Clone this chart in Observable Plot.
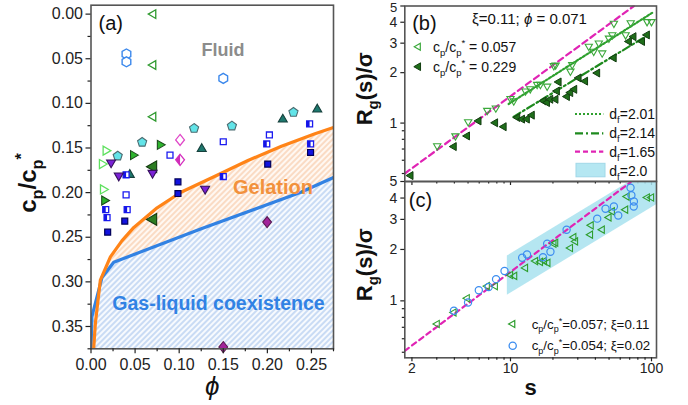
<!DOCTYPE html>
<html><head><meta charset="utf-8">
<script src="https://cdn.jsdelivr.net/npm/d3@7"></script>
<script src="https://cdn.jsdelivr.net/npm/@observablehq/plot@0.6"></script>
<style>
html,body{margin:0;padding:0;background:#fff;}
#wrap{position:relative;width:688px;height:405px;overflow:hidden;font-family:"Liberation Sans",Arial,sans-serif;}
#wrap svg{position:absolute;}
</style></head><body><div id="wrap"></div>
<script>
// ================= DATA =================
// Panel (a) axes
const aXDomain = [0, 0.275];
const aYDomain = [-0.01, 0.375];
const aXTicks = [0, 0.05, 0.10, 0.15, 0.20, 0.25];
const aXMinor = [0.025, 0.075, 0.125, 0.175, 0.225, 0.275];
const aYTicks = [0, 0.05, 0.10, 0.15, 0.20, 0.25, 0.30, 0.35];
const aYMinor = [0.025, 0.075, 0.125, 0.175, 0.225, 0.275, 0.325, 0.375];

// Gelation line (orange) and gas-liquid boundary (blue)
const gelPhi = [0.003, 0.005, 0.0106, 0.022, 0.035, 0.0486, 0.075, 0.102, 0.14, 0.178, 0.216, 0.254, 0.275];
const gelC   = [0.375, 0.346, 0.298, 0.272, 0.254, 0.239, 0.217, 0.1996, 0.182, 0.164, 0.148, 0.134, 0.127];
const coexPhi = [0, 0.001, 0.0125, 0.0258, 0.125, 0.238, 0.275];
const coexC   = [0.375, 0.339, 0.295, 0.278, 0.2405, 0.1996, 0.183];

// Panel (a) state points, [phi, cp/cp*]
const openLeftTriGreen = [[0.0706, 0.000], [0.0706, 0.057], [0.0706, 0.115]];
const openHexBlue = [[0.0402, 0.0447], [0.0402, 0.0534], [0.150, 0.072]];
const tealUpTri = [[0.2566, 0.1067], [0.2175, 0.118], [0.1256, 0.151], [0.044, 0.180]];
const cyanPentagon = [[0.2296, 0.110], [0.1598, 0.1253], [0.1169, 0.128], [0.058, 0.1436], [0.0303, 0.159]];
const openSquareBlue = [[0.2023, 0.1354], [0.150, 0.143], [0.0896, 0.158], [0.0398, 0.2025]];
const halfSquareBlue = [[0.2479, 0.123], [0.1993, 0.1455], [0.249, 0.1455], [0.0398, 0.180], [0.150, 0.182], [0.0167, 0.219], [0.041, 0.219], [0.0182, 0.228]];
const filledSquareBlue = [[0.249, 0.155], [0.2004, 0.168], [0.0986, 0.188], [0.0986, 0.201], [0.0383, 0.232], [0.0189, 0.2443]];
const openDiamondMagenta = [[0.101, 0.141]];
const halfDiamondMagenta = [[0.101, 0.1633]];
const filledDiamondMagenta = [[0.1997, 0.233], [0.150, 0.373]];
const filledRightTriGreen = [[0.0782, 0.1465], [0.0478, 0.158], [0.0151, 0.2088]];
const openRightTriLime = [[0.0167, 0.153], [0.0125, 0.168], [0.0137, 0.1965]];
const downTriPurple = [[0.0228, 0.1663], [0.0315, 0.181], [0.0698, 0.178], [0.1294, 0.1958]];
const bigLeftTriDarkGreen = [[0.0706, 0.171], [0.0706, 0.230]];

// Panels (b), (c) axes
const sDomain = [1.78, 108.5];
const bRDomain = [0.448, 5.0];
const cRDomain = [0.464, 5.0];
const sTicks = [2, 10, 100];
const sMinor = [3, 4, 5, 6, 7, 8, 9, 20, 30, 40, 50, 60, 70, 80, 90];
const rTicks = [1, 2, 3, 4, 5];
const rMinor = [0.5, 0.6, 0.7, 0.8, 0.9];

// Panel (b): cp/cp* = 0.057 (open) and 0.229 (filled)
const bOpenS = [3.02, 4.07, 5.01, 6.84, 7.87, 10.0, 10.55, 12.77, 13.8, 15.45, 16.3, 18.2, 20.3, 20.9, 26.6, 27.4, 35.9, 38.9, 42.3, 44.7, 49.9, 52.7, 54.1, 65.5, 71.2, 93, 100];
const bOpenR = [0.731, 0.838, 1.018, 1.19, 1.23, 1.40, 1.355, 1.553, 1.60, 1.70, 1.70, 1.66, 2.20, 2.22, 2.04, 2.23, 2.87, 2.68, 3.00, 2.62, 3.21, 3.36, 3.94, 3.36, 3.97, 4.03, 4.03];
const bFillS = [1.96, 3.97, 4.93, 5.95, 7.8, 8.97, 11.2, 12.1, 13.1, 14.2, 17.2, 18.2, 19.2, 20.9, 21.4, 22.0, 25.2, 26.6, 28.4, 30.5, 33.9, 41.3, 54.1, 69.3, 74.7, 85.9, 93];
const bFillR = [0.486, 0.724, 0.838, 1.03, 1.004, 0.951, 1.08, 1.056, 1.056, 1.115, 1.355, 1.326, 1.387, 1.387, 1.553, 1.76, 1.44, 1.52, 1.59, 1.86, 1.78, 1.99, 2.45, 3.07, 3.28, 3.07, 3.36];

// Fit lines (end points)
const fit165bS = [1.78, 75];   const fit165bR = [0.50, 5.0];
const fit201S = [9.7, 101];    const fit201R = [1.30, 4.55];
const fit214S = [10.5, 97];    const fit214R = [1.09, 3.40];
const fit165cS = [1.78, 71];   const fit165cR = [0.51, 4.95];

// d_f = 2.0 band in (c)
const bandS = [9.5, 108.5];
const bandLo = [1.08, 3.65];
const bandHi = [1.83, 6.2];

// Panel (c): xi = 0.11 (triangles) and xi = 0.02 (circles)
const cTriS = [3.02, 3.97, 4.93, 6.84, 7.8, 10.0, 10.7, 12.77, 15.05, 16.3, 17.4, 18.4, 20.3, 20.9, 26.6, 28.1, 28.9, 36.9, 37.3, 44.7, 49.9, 52.7, 65.5, 67, 93.3, 100];
const cTriR = [0.732, 0.855, 1.036, 1.22, 1.22, 1.417, 1.40, 1.56, 1.71, 1.69, 1.71, 1.67, 2.16, 2.19, 2.04, 2.36, 2.23, 2.44, 2.77, 2.61, 3.08, 3.34, 3.42, 4.08, 4.03, 4.03];
const cCircS = [3.97, 5.0, 5.96, 7.0, 7.9, 9.07, 12.1, 13.1, 17.0, 18.2, 19.2, 25.0, 41.2, 47.2, 54.1, 58.1, 71, 72, 75, 74.8];
const cCircR = [0.875, 0.978, 1.154, 1.206, 1.34, 1.495, 1.79, 1.87, 1.80, 2.16, 1.94, 2.61, 3.03, 3.46, 3.57, 3.16, 4.6, 4.15, 3.82, 3.57];

// ================= HELPERS =================
const rows = (xs, ys) => xs.map((x, i) => ({x, y: ys[i]}));
const pairs = arr => arr.map(([x, y]) => ({x, y}));
const svgNS = "http://www.w3.org/2000/svg";
const FONT = "'Liberation Sans', Arial, 'DejaVu Sans', sans-serif";
const baseStyle = `background:transparent;overflow:visible;font-family:${FONT};color:#111;`;

function polySym(n, rot, scale = 1, sx = 1) {
  return {draw(ctx, size) {
    const r = Math.sqrt(size / Math.PI) * scale;
    for (let i = 0; i < n; i++) {
      const a = rot + 2 * Math.PI * i / n;
      const x = r * Math.cos(a) * sx, y = r * Math.sin(a);
      if (i) ctx.lineTo(x, y); else ctx.moveTo(x, y);
    }
    ctx.closePath();
  }};
}
const triUp = polySym(3, -Math.PI / 2);
const triDown = polySym(3, Math.PI / 2);
const triLeft = polySym(3, Math.PI);
const triRight = polySym(3, 0);
const pentagon = polySym(5, -Math.PI / 2);
const hexagon = polySym(6, -Math.PI / 2);
const square = polySym(4, Math.PI / 4);
const diamond = polySym(4, -Math.PI / 2, 1.1, 0.8);
const leftHalfSquare = {draw(ctx, size) {
  const h = Math.sqrt(size / Math.PI) * Math.SQRT1_2;
  ctx.moveTo(-h, -h); ctx.lineTo(0, -h); ctx.lineTo(0, h); ctx.lineTo(-h, h); ctx.closePath();
}};
const leftHalfDiamond = {draw(ctx, size) {
  const r = Math.sqrt(size / Math.PI) * 1.1;
  ctx.moveTo(0, -r); ctx.lineTo(-r * 0.8, 0); ctx.lineTo(0, r); ctx.closePath();
}};

function dots(data, symbol, r, fill, stroke, strokeWidth = 1.1) {
  return Plot.dot(data, {x: "x", y: "y", symbol, r, fill, stroke, strokeWidth});
}

function richify(root) {
  root.querySelectorAll("text").forEach(t => {
    const s = t.textContent;
    if (!/[_^~]\{/.test(s)) return;
    const fs = parseFloat(getComputedStyle(t).fontSize) || 14;
    while (t.firstChild) t.removeChild(t.firstChild);
    const re = /([_^~])\{([^}]*)\}/g;
    let last = 0, m, shift = 0;
    const add = (txt, kind) => {
      if (!txt) return;
      const ts = document.createElementNS(svgNS, "tspan");
      ts.textContent = txt;
      const target = kind === "_" ? 0.28 * fs : kind === "^" ? -0.38 * fs : 0;
      const d = target - shift;
      if (d) ts.setAttribute("dy", d.toFixed(2));
      shift = target;
      if (kind === "_" || kind === "^") ts.setAttribute("font-size", (0.68 * fs).toFixed(1));
      if (kind === "~") ts.setAttribute("font-style", "italic");
      t.appendChild(ts);
    };
    while ((m = re.exec(s))) { add(s.slice(last, m.index), ""); add(m[2], m[1]); last = re.lastIndex; }
    add(s.slice(last), "");
  });
}

const wrap = document.getElementById("wrap");
function place(svg, left, top) { svg.style.left = left + "px"; svg.style.top = top + "px"; wrap.appendChild(svg); }

// ================= PANEL (a) =================
const gelRows = rows(gelPhi, gelC);
const coexRows = rows(coexPhi, coexC);
const gelRegion = gelRows.filter(d => d.x >= 0.0106).concat(coexRows.filter(d => d.x >= 0.0125).reverse());

const tickStyleA = {tickSize: 5, tickPadding: 3, fontSize: 16, color: "#222", strokeWidth: 1.2, label: null};
const svgA = Plot.plot({
  width: 345, height: 405,
  marginLeft: 90.5, marginRight: 12, marginTop: 4.7, marginBottom: 56.7,
  x: {domain: aXDomain, label: null},
  y: {domain: aYDomain, reverse: true, label: null},
  style: baseStyle,
  marks: [
    Plot.areaY(coexRows, {x: "x", y1: "y", y2: () => aYDomain[1], fill: "url(#hatchBlue)", clip: true}),
    Plot.line(gelRegion, {x: "x", y: "y", fill: "url(#hatchOrange)", stroke: "none", clip: true}),
    Plot.line(coexRows, {x: "x", y: "y", stroke: "#3282e3", strokeWidth: 3.2, clip: true}),
    Plot.line(gelRows, {x: "x", y: "y", stroke: "#ff8418", strokeWidth: 3.2, clip: true}),
    dots(pairs(openLeftTriGreen), triLeft, 5, "white", "#2f9a2f", 1.3),
    dots(pairs(openHexBlue), hexagon, 5, "white", "#3b88ec", 1.4),
    dots(pairs(cyanPentagon), pentagon, 4.8, "#62e4e8", "#4b6b70"),
    dots(pairs(tealUpTri), triUp, 5.2, "#1d786e", "#16403c"),
    dots(pairs(openSquareBlue), square, 4.2, "white", "#1b1bf0", 1.3),
    dots(pairs(halfSquareBlue), square, 4.2, "white", "#1b1bf0", 1.3),
    dots(pairs(halfSquareBlue), leftHalfSquare, 4.2, "#1414e6", "none"),
    dots(pairs(filledSquareBlue), square, 4.2, "#1212e0", "#00005a", 1.2),
    dots(pairs(openDiamondMagenta), diamond, 5, "white", "#e046c8", 1.3),
    dots(pairs(halfDiamondMagenta), diamond, 5, "white", "#d52fbf", 1.3),
    dots(pairs(halfDiamondMagenta), leftHalfDiamond, 5, "#d02cb8", "none"),
    dots(pairs(filledDiamondMagenta), diamond, 5, "#a2249a", "#5a1a50"),
    dots(pairs(bigLeftTriDarkGreen), triLeft, 6.8, "#2c7d22", "#143a10"),
    dots(pairs(filledRightTriGreen), triRight, 5.2, "#2db52d", "#1c4a1c"),
    dots(pairs(openRightTriLime), triRight, 5.2, "white", "#5fe05f", 1.3),
    dots(pairs(downTriPurple), triDown, 5.2, "#7b22d6", "#35105c"),
    Plot.frame({stroke: "#555", strokeWidth: 1.6}),
    Plot.axisY({ticks: aYTicks, tickFormat: d3.format(".2f"), ...tickStyleA}),
    Plot.axisY({ticks: aYMinor, tickFormat: () => "", ...tickStyleA, tickSize: 3}),
    Plot.axisX({ticks: aXTicks, tickFormat: d3.format(".2f"), ...tickStyleA, tickPadding: 5}),
    Plot.axisX({ticks: aXMinor, tickFormat: () => "", ...tickStyleA, tickSize: 3}),
    Plot.text(["(a)"], {frameAnchor: "top-left", dx: 7.5, dy: 18, textAnchor: "start", lineAnchor: "middle", fontSize: 20, fill: "#111"}),
    Plot.text(["Fluid"], {frameAnchor: "top-left", dx: 132, dy: 45.3, textAnchor: "middle", lineAnchor: "middle", fontSize: 18, fontWeight: "bold", fill: "#8c8c8c"}),
    Plot.text(["Gelation"], {frameAnchor: "top-left", dx: 182, dy: 182.3, textAnchor: "middle", lineAnchor: "middle", fontSize: 20, fontWeight: "bold", fill: "#f2913c"}),
    Plot.text(["Gas-liquid coexistence"], {frameAnchor: "top-left", dx: 127.5, dy: 298.3, textAnchor: "middle", lineAnchor: "middle", fontSize: 19.5, fontWeight: "bold", fill: "#3182e4"}),
    Plot.text(["c_{p}/c_{p}^{*}"], {frameAnchor: "left", dx: -62.5, dy: 6, rotate: -90, textAnchor: "middle", lineAnchor: "middle", fontSize: 24, fontWeight: "bold", fill: "#111"}),
    Plot.text(["ϕ"], {frameAnchor: "bottom", dy: 38, textAnchor: "middle", lineAnchor: "middle", fontSize: 26, fontStyle: "italic", fill: "#111"})
  ]
});
d3.select(svgA).insert("defs", ":first-child").html(`
  <pattern id="hatchBlue" patternUnits="userSpaceOnUse" width="4" height="4" patternTransform="rotate(45)">
    <rect width="4" height="4" fill="#f7fafe"/>
    <line x1="1" y1="0" x2="1" y2="4" stroke="#a3c2ec" stroke-width="1.1"/>
  </pattern>
  <pattern id="hatchOrange" patternUnits="userSpaceOnUse" width="4" height="4" patternTransform="rotate(45)">
    <rect width="4" height="4" fill="#fff8f2"/>
    <line x1="1" y1="0" x2="1" y2="4" stroke="#f7c49e" stroke-width="1.1"/>
  </pattern>`);
place(svgA, 0, 0);

// ================= PANEL (b) =================
const tickStyleB = {tickSize: 4, tickPadding: 3.5, fontSize: 14, color: "#222", strokeWidth: 1.2, label: null};
const svgB = Plot.plot({
  width: 348, height: 195,
  marginLeft: 64.3, marginRight: 32, marginTop: 5.5, marginBottom: 14,
  x: {type: "log", domain: sDomain, label: null},
  y: {type: "log", domain: bRDomain, label: null},
  style: baseStyle,
  marks: [
    Plot.line(rows(fit165bS, fit165bR), {x: "x", y: "y", stroke: "#e024b4", strokeWidth: 2.2, strokeDasharray: "6,4", clip: true}),
    Plot.line(rows(fit201S, fit201R), {x: "x", y: "y", stroke: "#2ea02e", strokeWidth: 2.2, strokeDasharray: "2,2", clip: true}),
    Plot.line(rows(fit214S, fit214R), {x: "x", y: "y", stroke: "#1e8a1e", strokeWidth: 2.2, strokeDasharray: "8,3,2,3", clip: true}),
    Plot.dot(rows(bOpenS, bOpenR), {x: "x", y: "y", symbol: triDown, r: 4.2, fill: "none", stroke: "#3aa83a", strokeWidth: 1.1}),
    Plot.dot(rows(bFillS, bFillR), {x: "x", y: "y", symbol: triLeft, r: 4.6, fill: "#1f6e1a", stroke: "#123d10", strokeWidth: 1}),
    Plot.frame({stroke: "#555", strokeWidth: 1.6}),
    Plot.axisY({ticks: rTicks.slice(0, -1), tickFormat: d => String(d), ...tickStyleB}),
    Plot.axisY({ticks: rTicks.slice(-1), tickFormat: () => "", ...tickStyleB}),
    Plot.axisY({ticks: rTicks.slice(-1), tickFormat: d => String(d), ...tickStyleB, fontSize: 13, tickSize: 0, tickPadding: 7.5, dy: 1.5}),
    Plot.axisY({ticks: rMinor, tickFormat: () => "", ...tickStyleB, tickSize: 2.5}),
    Plot.axisX({ticks: sTicks, tickFormat: () => "", ...tickStyleB}),
    Plot.axisX({ticks: sMinor, tickFormat: () => "", ...tickStyleB, tickSize: 2.5}),
    Plot.text(["(b)"], {frameAnchor: "top-left", dx: 7.4, dy: 17.8, textAnchor: "start", lineAnchor: "middle", fontSize: 20, fill: "#111"}),
    Plot.text(["ξ=0.11; ~{ϕ} = 0.071"], {frameAnchor: "top-left", dx: 124.7, dy: 13.5, textAnchor: "middle", lineAnchor: "middle", fontSize: 15, fill: "#111"}),
    Plot.text(["R_{g}(s)/σ"], {frameAnchor: "left", dx: -40, dy: -5, rotate: -90, textAnchor: "middle", lineAnchor: "middle", fontSize: 22, fontWeight: "bold", fill: "#111"})
  ]
});
{
  const g = d3.select(svgB).append("g").attr("font-size", 14).attr("fill", "#111").attr("text-anchor", "start");
  g.append("path").attr("transform", "translate(78.3,46.7)").attr("d", d3.symbol(triLeft, Math.PI * 16)())
    .attr("fill", "white").attr("stroke", "#3aa83a").attr("stroke-width", 1.2);
  g.append("path").attr("transform", "translate(78.3,66.7)").attr("d", d3.symbol(triLeft, Math.PI * 20)())
    .attr("fill", "#1f6e1a").attr("stroke", "#123d10");
  g.append("text").attr("x", 93).attr("y", 46.7).attr("dy", "0.35em").text("c_{p}/c_{p}^{*} = 0.057");
  g.append("text").attr("x", 93).attr("y", 66.7).attr("dy", "0.35em").text("c_{p}/c_{p}^{*} = 0.229");
  const sw = [
    {y: 114, stroke: "#2ea02e", dash: "2,2", label: "d_{f}=2.01"},
    {y: 133.3, stroke: "#1e8a1e", dash: "8,3,2,3", label: "d_{f}=2.14"},
    {y: 151.7, stroke: "#e024b4", dash: "5,3", label: "d_{f}=1.65"}
  ];
  sw.forEach(s => {
    g.append("line").attr("x1", 235).attr("x2", 263.3).attr("y1", s.y).attr("y2", s.y)
      .attr("stroke", s.stroke).attr("stroke-width", 2.2).attr("stroke-dasharray", s.dash);
    g.append("text").attr("x", 269.3).attr("y", s.y).attr("dy", "0.35em").text(s.label);
  });
  g.append("rect").attr("x", 236).attr("y", 163.3).attr("width", 29).attr("height", 13.5)
    .attr("fill", "#b5e7f2").attr("stroke", "#a0d8e8");
  g.append("text").attr("x", 269.3).attr("y", 170.7).attr("dy", "0.35em").text("d_{f}=2.0");
}
place(svgB, 340, 0);

// ================= PANEL (c) =================
const svgC = Plot.plot({
  width: 348, height: 235,
  marginLeft: 64.3, marginRight: 32, marginTop: 11, marginBottom: 47.7,
  x: {type: "log", domain: sDomain, label: null},
  y: {type: "log", domain: cRDomain, label: null},
  style: baseStyle,
  marks: [
    Plot.areaY(bandS.map((s, i) => ({s, lo: bandLo[i], hi: bandHi[i]})), {x: "s", y1: "lo", y2: "hi", fill: "#a8e2ef", fillOpacity: 0.85, clip: true}),
    Plot.line(rows(fit165cS, fit165cR), {x: "x", y: "y", stroke: "#e024b4", strokeWidth: 2.2, strokeDasharray: "5,4", clip: true}),
    Plot.dot(rows(cTriS, cTriR), {x: "x", y: "y", symbol: triLeft, r: 4.2, fill: "none", stroke: "#2e9e2e", strokeWidth: 1.1}),
    Plot.dot(rows(cCircS, cCircR), {x: "x", y: "y", r: 3.6, fill: "none", stroke: "#3c8df0", strokeWidth: 1.2}),
    Plot.frame({stroke: "#555", strokeWidth: 1.6}),
    Plot.axisY({ticks: rTicks, tickFormat: d => String(d), ...tickStyleB}),
    Plot.axisY({ticks: rMinor, tickFormat: () => "", ...tickStyleB, tickSize: 2.5}),
    Plot.axisX({ticks: sTicks, tickFormat: d => String(d), ...tickStyleB, tickPadding: 1.5}),
    Plot.axisX({ticks: sMinor, tickFormat: () => "", ...tickStyleB, tickSize: 2.5}),
    Plot.text(["(c)"], {frameAnchor: "top-left", dx: 4, dy: 19, textAnchor: "start", lineAnchor: "middle", fontSize: 20, fill: "#111"}),
    Plot.text(["R_{g}(s)/σ"], {frameAnchor: "left", dx: -40, dy: -5, rotate: -90, textAnchor: "middle", lineAnchor: "middle", fontSize: 22, fontWeight: "bold", fill: "#111"}),
    Plot.text(["s"], {frameAnchor: "bottom", dy: 30.4, textAnchor: "middle", lineAnchor: "middle", fontSize: 22, fontWeight: "bold", fill: "#111"})
  ]
});
{
  const g = d3.select(svgC).append("g").attr("font-size", 13.3).attr("fill", "#111").attr("text-anchor", "start");
  g.append("path").attr("transform", "translate(172.7,154)").attr("d", d3.symbol(triLeft, Math.PI * 17)())
    .attr("fill", "white").attr("stroke", "#2e9e2e").attr("stroke-width", 1.2);
  g.append("circle").attr("cx", 172.7).attr("cy", 175.7).attr("r", 3.6)
    .attr("fill", "none").attr("stroke", "#3c8df0").attr("stroke-width", 1.3);
  g.append("text").attr("x", 191.7).attr("y", 154).attr("dy", "0.35em").text("c_{p}/c_{p}^{*}=0.057; ξ=0.11");
  g.append("text").attr("x", 191.7).attr("y", 175.7).attr("dy", "0.35em").text("c_{p}/c_{p}^{*}=0.054; ξ=0.02");
}
place(svgC, 340, 170);

[svgA, svgB, svgC].forEach(richify);
</script></body></html>
